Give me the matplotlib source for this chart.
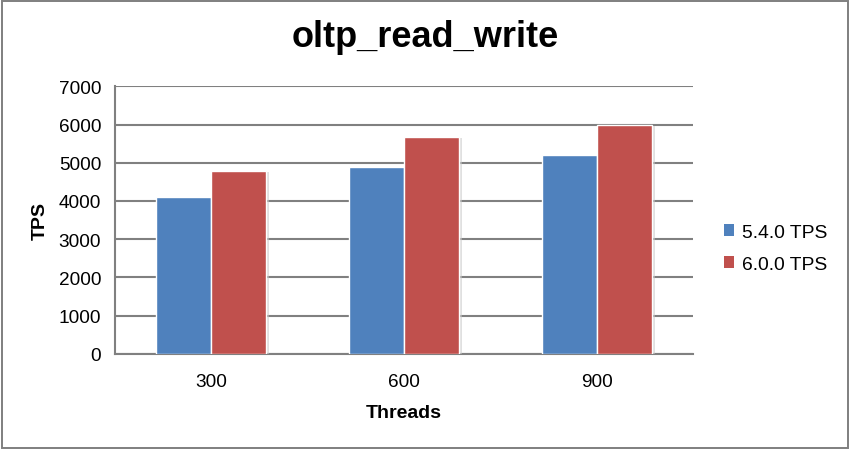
import matplotlib
matplotlib.use("Agg")
import matplotlib.pyplot as plt
import matplotlib.patheffects as pe
from matplotlib.patches import Patch, Rectangle
import numpy as np

categories = ["300", "600", "900"]
series_names = ["5.4.0 TPS", "6.0.0 TPS"]
tps_540 = [4100, 4890, 5200]
tps_600 = [4780, 5670, 5990]
yticks = [0, 1000, 2000, 3000, 4000, 5000, 6000, 7000]

colors = ["#4F81BD", "#C0504D"]
grid_color = "#808080"

plt.rcParams["font.family"] = ["Liberation Sans", "DejaVu Sans"]

W, H = 850, 452
fig = plt.figure(figsize=(W / 100, H / 100), dpi=100)
fig.patch.set_facecolor("white")

ax = fig.add_axes([115 / W, (H - 354.7) / H, (693 - 115) / W, (354.7 - 87.3) / H])
ax.set_facecolor("white")

x = np.arange(len(categories))
bw = 0.286
shadow = [pe.SimplePatchShadow(offset=(2, -0.5), shadow_rgbFace="#c8c8c8", alpha=0.55), pe.Normal()]
for i, (vals, name) in enumerate(zip([tps_540, tps_600], series_names)):
    off = (i - 0.5) * bw
    bars = ax.bar(x + off, vals, width=bw, color=colors[i], edgecolor="white",
                  linewidth=1.0, zorder=3, label=name)
    for b in bars:
        b.set_path_effects(shadow)

ax.set_xlim(-0.5, len(categories) - 0.5)
ax.set_ylim(0, 7000)
ax.set_yticks(yticks)
ax.set_yticklabels([str(v) for v in yticks])
ax.set_xticks(x)
ax.set_xticklabels(categories)
ax.tick_params(axis="both", length=0, labelsize=13.7, colors="black")
ax.tick_params(axis="y", pad=10)
ax.tick_params(axis="x", pad=14)

ax.grid(axis="y", color=grid_color, linewidth=1.5, zorder=0)
ax.set_axisbelow(True)
for s in ["top", "right"]:
    ax.spines[s].set_visible(False)
for s in ["left", "bottom"]:
    ax.spines[s].set_color(grid_color)
    ax.spines[s].set_linewidth(1.5)

ax.set_xlabel("Threads", fontsize=14, fontweight="bold", labelpad=10)
ax.set_ylabel("TPS", fontsize=14, fontweight="bold", labelpad=7)

fig.text(0.5, (H - 46.7) / H, "oltp_read_write", ha="center", va="baseline",
         fontsize=26, fontweight="bold")

handles = [Patch(facecolor=c, edgecolor="none") for c in colors]
fig.legend(handles, series_names, loc="center left",
           bbox_to_anchor=(724 / W, (H - 249.5) / H), frameon=False,
           fontsize=13.9, handlelength=0.53, handleheight=0.53,
           handletextpad=0.42, labelspacing=0.78, borderpad=0, borderaxespad=0)

fig.patches.append(Rectangle((1.5 / W, (H - 448.5) / H), (848 - 1.5) / W, (448.5 - 1.5) / H,
                             transform=fig.transFigure, fill=False,
                             edgecolor="#7f7f7f", linewidth=1.4))

fig.savefig("out.png", dpi=100, facecolor="white")
